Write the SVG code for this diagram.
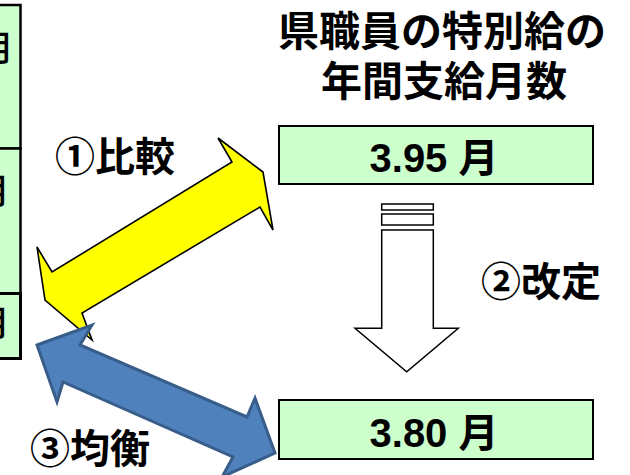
<svg xmlns="http://www.w3.org/2000/svg" width="630" height="475" viewBox="0 0 630 475">
<style>
.box{fill:#CCFFCC;stroke:#000;stroke-width:2.5}
.vbox{fill:#CCFFCC;stroke:#000;stroke-width:2}
.jp{font-family:"Noto Sans CJK JP","Liberation Sans",sans-serif;font-weight:bold;fill:#000}
.num{font-family:"Liberation Sans","Noto Sans CJK JP",sans-serif;font-weight:bold;font-size:40px;fill:#000;text-anchor:middle}
.side{font-family:"Noto Sans CJK JP",sans-serif;font-size:35px;font-weight:500;fill:#000;text-anchor:end}
</style>
<rect width="630" height="475" fill="#fff"/>
<g id="left-boxes">
<rect class="box" x="-10" y="5" width="30.5" height="143.5"/>
<rect class="box" x="-10" y="148.5" width="30.5" height="145"/>
<rect class="box" x="-10" y="293.5" width="30.5" height="65" style="stroke-width:3"/>
<text class="side" x="14" y="61">月</text>
<text class="side" x="10" y="204">月</text>
<text class="side" x="10" y="336">月</text>
</g>
<g id="title">
<text class="jp" font-size="41" x="442" y="46" text-anchor="middle">県職員の特別給の</text>
<text class="jp" font-size="41" x="444" y="96" text-anchor="middle">年間支給月数</text>
</g>
<g id="box-395">
<rect class="vbox" x="279" y="126" width="314" height="58"/>
<text class="num" x="434" y="172">3.95 月</text>
</g>
<g id="box-380">
<rect class="vbox" x="279" y="400" width="314" height="59"/>
<text class="num" x="434" y="447">3.80 月</text>
</g>
<g id="connectors">
<polygon id="compare-arrow" points="218,138 263,172 273,230 260,207 82,313 92,340 45,300 37,247 52,272 232,162" fill="#FFFF00" stroke="#000" stroke-width="1.6" stroke-linejoin="miter"/>
<polygon id="balance-arrow" points="92,325 80,345 247,417 255,398 275,453 222,477 233,457 63,382 57,402 37,345" fill="#4F81BD" stroke="#385D8A" stroke-width="3" stroke-linejoin="miter"/>
<g id="revise-arrow" fill="#fff" stroke="#000" stroke-width="1.5">
<rect x="381.7" y="204" width="51.6" height="6"/>
<rect x="381.7" y="214" width="51.6" height="11"/>
<polygon points="381.7,230 433.3,230 433.3,328.3 458.3,328.3 406.7,371.7 355,328.3 381.7,328.3"/>
</g>
</g>
<g id="labels">
<text class="jp" font-size="40" x="55" y="171">①比較</text>
<text class="jp" font-size="40" x="481" y="296">②改定</text>
<text class="jp" font-size="40" x="30" y="463">③均衡</text>
</g>
</svg>
